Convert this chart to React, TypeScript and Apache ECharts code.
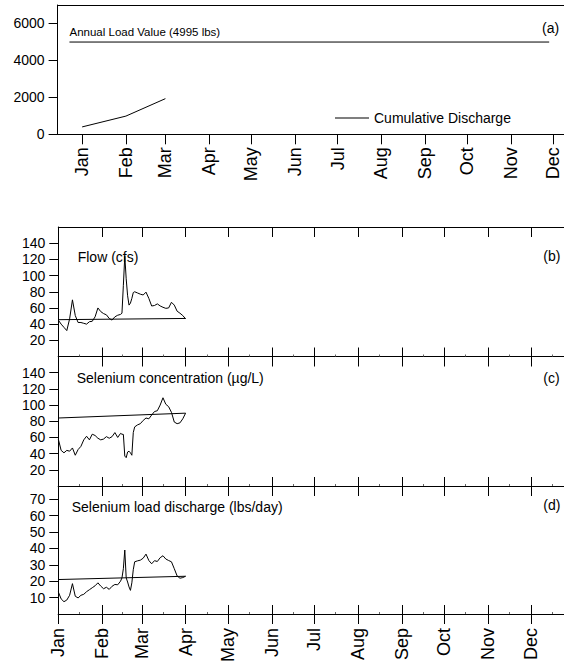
import React, { useEffect, useRef } from 'react';
import * as echarts from 'echarts';

const FONT = '"Liberation Sans", Arial, sans-serif';

const monthNames = ['Jan', 'Feb', 'Mar', 'Apr', 'May', 'Jun', 'Jul', 'Aug', 'Sep', 'Oct', 'Nov', 'Dec'];
const monthStartDays = [0, 31, 59, 90, 120, 151, 181, 212, 243, 273, 304, 334];
const midMonthDays = [15, 45, 74, 105, 135, 166, 196, 227, 258, 288, 319, 349];

// Panel (a)
const cumulativeDays = [0, 31, 59];
const cumulativeLoad = [400, 985, 1930];
const annualLoad = 4995;
const annualLineDays = [-9, 331];
const yTicksA = [0, 2000, 4000, 6000];

// Panels (b), (c), (d): day of year
const sampleDays = [0, 2, 4, 6, 8, 10, 12, 14, 16, 18, 20, 22, 24, 26, 28, 30, 32, 34, 36, 38, 40, 42, 44,
  45, 46, 47, 48, 49, 50, 51, 52, 53, 54,
  56, 58, 60, 62, 64, 66, 68, 70, 72, 74, 76, 78, 80, 82, 84, 86, 88, 90];
const flowCfs = [45, 40, 36, 32, 46.5, 70, 50.6, 42, 42, 41, 40, 43, 43.5, 49, 60, 55.5, 53, 51.5, 47, 45, 49, 51, 52,
  53.5, 88, 124, 96, 75, 63.5, 66, 71.8, 79, 80,
  78.5, 77, 76, 79.5, 71.8, 62.4, 63, 65, 62.5, 60.8, 59.5, 60, 67, 63.5, 56, 53.5, 50.6, 46.5];
const seleniumConc = [58, 44, 41, 44, 43, 47, 38, 45, 49, 57, 61.5, 57, 64, 62.4, 59, 57, 58, 61, 59, 61, 66, 60, 65,
  64, 63.7, 37, 35, 42, 43, 41, 38, 66, 73,
  75.5, 77, 81, 84, 83, 87.7, 92, 93, 100, 109, 101, 98, 91, 79, 77, 78, 83, 90];
const seleniumLoad = [13.5, 9.2, 7.5, 8.5, 11.4, 18.5, 10.8, 9.8, 11.4, 12, 13.6, 14.8, 16, 17.2, 19, 17, 15.4, 16.3, 15, 16.9, 18, 17.8, 20,
  22, 27.6, 39, 22, 19.5, 16.5, 14.4, 19, 27, 31.8,
  32.4, 32.8, 34, 36.5, 32.6, 30.6, 32.5, 32, 34.3, 35.5, 33.5, 32.6, 31.8, 27.6, 23.2, 21.8, 22.2, 23];
const trendDays = [0, 90];
const flowTrend = [45.5, 47];
const concTrend = [84, 90];
const loadTrend = [21, 23];
const yTicksB = [20, 40, 60, 80, 100, 120, 140];
const yTicksC = [20, 40, 60, 80, 100, 120, 140];
const yTicksD = [10, 20, 30, 40, 50, 60, 70];

const zip = (xs: number[], ys: number[]) => xs.map((x, i) => [x, ys[i]]);

const A_MIN = -17.4, A_MAX = 341.5;
const B_MIN = 0, B_MAX = 357.5;

const black = { color: '#000', width: 1 };

function xAxisDef(gridIndex: number, position: string, min: number, max: number, tick: any, label?: any, tickValues = monthStartDays) {
  return {
    type: 'value', gridIndex, position, min, max,
    axisLine: { show: true, onZero: false, lineStyle: black },
    axisTick: tick ? { show: true, customValues: tickValues, lineStyle: black, ...tick } : { show: false },
    axisLabel: label
      ? {
          show: true, customValues: monthStartDays, rotate: 90, color: '#000', fontFamily: FONT,
          formatter: (v: number) => monthNames[monthStartDays.indexOf(v)] ?? '', ...label,
        }
      : { show: false },
    splitLine: { show: false },
  };
}

function minorAxis(gridIndex: number) {
  return xAxisDef(gridIndex, 'bottom', B_MIN, B_MAX,
    { inside: true, length: 2, lineStyle: { color: '#666', width: 1 } }, undefined, midMonthDays);
}

function yAxisDef(gridIndex: number, max: number, ticks: number[]) {
  return {
    type: 'value', gridIndex, min: 0, max,
    axisLine: { show: true, onZero: false, lineStyle: black },
    axisTick: { show: true, length: 9, customValues: ticks, lineStyle: black },
    axisLabel: {
      show: true, customValues: ticks, margin: 13, fontSize: 14, color: '#000', fontFamily: FONT,
      formatter: (v: number) => String(v),
    },
    splitLine: { show: false },
  };
}

function lineSeries(name: string, xi: number, yi: number, data: number[][]) {
  return {
    type: 'line', name, xAxisIndex: xi, yAxisIndex: yi, data, symbol: 'none', showSymbol: false,
    lineStyle: { color: '#000', width: 1 }, itemStyle: { color: '#000' }, silent: true,
  };
}

function text(x: number, y: number, t: string, size: number) {
  return {
    type: 'text', x, y, silent: true,
    style: { text: t, fill: '#000', font: `${size}px ${FONT}`, textAlign: 'left', textVerticalAlign: 'middle' },
  };
}

export default function App() {
  const ref = useRef<HTMLDivElement>(null);
  useEffect(() => {
    if (!ref.current) return;
    const chart = echarts.init(ref.current, undefined, { renderer: 'svg' });
    const option: any = {
      animation: false,
      backgroundColor: '#fff',
      textStyle: { fontFamily: FONT },
      grid: [
        { left: 57.6, top: 5, right: 0, height: 129.3 },
        { left: 58.3, top: 227, right: 0, height: 129.5 },
        { left: 58.3, top: 356.5, right: 0, height: 129.5 },
        { left: 58.3, top: 486, right: 0, height: 128 },
      ],
      xAxis: [
        xAxisDef(0, 'bottom', A_MIN, A_MAX, { inside: false, length: 10 }, { fontSize: 18, margin: 13 }),
        xAxisDef(0, 'top', A_MIN, A_MAX, null),
        xAxisDef(1, 'top', B_MIN, B_MAX, { inside: true, length: 10 }),
        xAxisDef(1, 'bottom', B_MIN, B_MAX, { inside: true, length: 9 }),
        xAxisDef(2, 'top', B_MIN, B_MAX, { inside: true, length: 10 }),
        xAxisDef(2, 'bottom', B_MIN, B_MAX, { inside: true, length: 9 }),
        xAxisDef(3, 'top', B_MIN, B_MAX, { inside: true, length: 10 }),
        xAxisDef(3, 'bottom', B_MIN, B_MAX, { inside: true, length: 9 }),
        xAxisDef(3, 'bottom', B_MIN, B_MAX, { inside: false, length: 10 }, { fontSize: 18, margin: 14 }),
        minorAxis(1),
        minorAxis(2),
        minorAxis(3),
      ],
      yAxis: [
        yAxisDef(0, 7000, yTicksA),
        yAxisDef(1, 160, yTicksB),
        yAxisDef(2, 160, yTicksC),
        yAxisDef(3, 78, yTicksD),
      ],
      legend: {
        data: [{ name: 'Cumulative Discharge', icon: 'rect' }],
        left: 330, top: 106, itemWidth: 34, itemHeight: 1, itemGap: 8,
        itemStyle: { color: '#000' },
        textStyle: { fontSize: 14, color: '#000', fontFamily: FONT }, selectedMode: false,
      },
      series: [
        lineSeries('Cumulative Discharge', 0, 0, zip(cumulativeDays, cumulativeLoad)),
        lineSeries('Annual Load', 0, 0, annualLineDays.map((d) => [d, annualLoad])),
        lineSeries('Flow', 3, 1, zip(sampleDays, flowCfs)),
        lineSeries('Flow trend', 3, 1, zip(trendDays, flowTrend)),
        lineSeries('Selenium', 5, 2, zip(sampleDays, seleniumConc)),
        lineSeries('Selenium trend', 5, 2, zip(trendDays, concTrend)),
        lineSeries('Load', 7, 3, zip(sampleDays, seleniumLoad)),
        lineSeries('Load trend', 7, 3, zip(trendDays, loadTrend)),
      ],
      graphic: [
        text(69.5, 32, `Annual Load Value (${annualLoad} lbs)`, 11.5),
        text(542, 28, '(a)', 14),
        text(77.7, 256.7, 'Flow (cfs)', 14),
        text(543.3, 256, '(b)', 14),
        text(76.7, 378.3, 'Selenium concentration (µg/L)', 14),
        text(543.3, 378.3, '(c)', 14),
        text(71.7, 506.7, 'Selenium load discharge (lbs/day)', 14),
        text(543.3, 505, '(d)', 14),
      ],
    };
    chart.setOption(option);
    return () => chart.dispose();
  }, []);
  return <div ref={ref} style={{ position: 'fixed', left: 0, top: 0, width: 564, height: 668, background: '#fff' }} />;
}
